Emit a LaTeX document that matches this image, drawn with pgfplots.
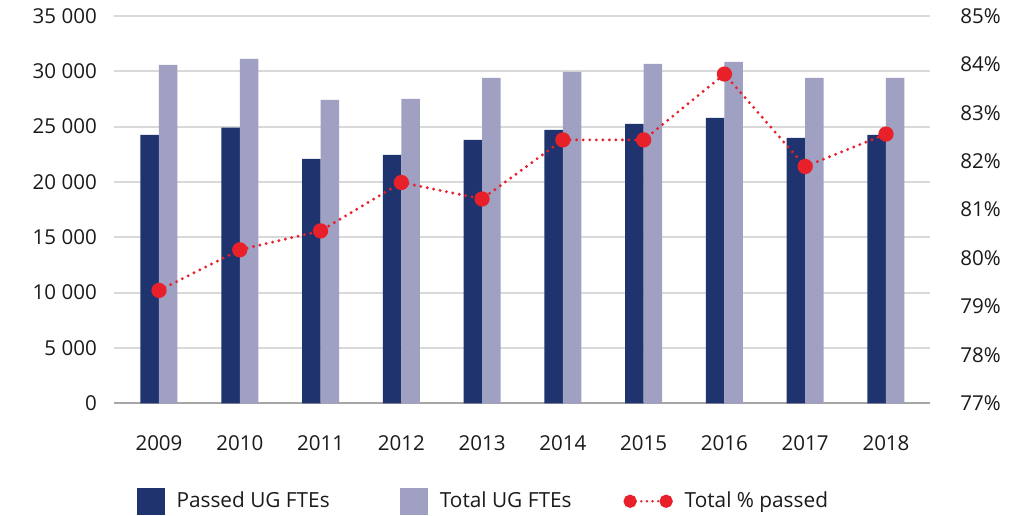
\documentclass[border=0pt]{standalone}
\usepackage{fontspec}
\setmainfont{Open Sans}
\usepackage{pgfplots}
\pgfplotsset{compat=1.18}

\definecolor{navy}{HTML}{1F336E}
\definecolor{lav}{HTML}{A0A0C2}
\definecolor{redc}{HTML}{E8202A}
\definecolor{gridc}{HTML}{D9D9D9}
\definecolor{axisc}{HTML}{A6A6A6}
\definecolor{txt}{HTML}{1A1A1A}

\begin{document}
\fontsize{15.4}{18}\selectfont
\begin{tikzpicture}
\pgfplotsset{
  base/.style={
    width=612pt, height=290.5pt, scale only axis,
    xmin=-0.557, xmax=9.545,
    major tick length=0pt,
    tick label style={font=\fontsize{15.4}{18}\selectfont, text=txt},
    /pgf/number format/assume math mode=true,
  }
}
\begin{axis}[base,
    ybar, bar width=0.229,
    ymin=0, ymax=35000,
    ytick={0,5000,...,35000},
    scaled y ticks=false,
    yticklabel style={xshift=-7.6pt, /pgf/number format/.cd, fixed, precision=0, 1000 sep={\ }},
    xtick={0,...,9},
    xticklabels={2009,2010,2011,2012,2013,2014,2015,2016,2017,2018},
    xticklabel style={yshift=-18.6pt},
    ymajorgrids,
    grid style={line width=1.5pt, gridc},
    axis x line*=bottom, axis y line*=left,
    x axis line style={-, line width=1.5pt, axisc},
    y axis line style={draw=none},
]
\coordinate (O) at (rel axis cs:0,0);
\addplot[fill=navy, draw=none, bar shift=-0.1145] coordinates {
(0,24250) (1,24900) (2,22080) (3,22440) (4,23800)
(5,24700) (6,25240) (7,25790) (8,23980) (9,24250)
};
\addplot[fill=lav, draw=none, bar shift=0.1145] coordinates {
(0,30570) (1,31120) (2,27410) (3,27500) (4,29400)
(5,29940) (6,30660) (7,30850) (8,29400) (9,29400)
};
\end{axis}

\begin{axis}[base,
    ymin=77, ymax=85,
    ytick={77,78,...,85},
    yticklabel={\pgfmathprintnumber[fixed,precision=0]{\tick}\%},
    yticklabel style={xshift=17.4pt},
    axis y line*=right,
    y axis line style={draw=none},
    hide x axis,
    legend columns=-1,
    legend style={
      at={(rel axis cs:0.0282,-0.2530)}, anchor=west,
      draw=none, fill=none, inner sep=0pt, outer sep=0pt,
      font=\fontsize{15.6}{18}\selectfont, text=txt,
      /tikz/every odd column/.append style={column sep=7pt},
      /tikz/column 2/.style={column sep=51pt},
      /tikz/column 4/.style={column sep=37pt},
    },
]
\addlegendimage{legend image code/.code={\fill[navy] (0pt,-10.1pt) rectangle (20.25pt,10.1pt);}}
\addlegendentry{Passed UG FTEs}
\addlegendimage{legend image code/.code={\fill[lav] (0pt,-10.1pt) rectangle (20.25pt,10.1pt);}}
\addlegendentry{Total UG FTEs}
\addplot[redc, line width=2.4pt, line cap=round, dash pattern=on 0pt off 4.9pt,
    mark=*, mark size=4.5pt, mark options={solid, draw=none, fill=redc},
    legend image code/.code={
      \draw[redc, line width=2pt, line cap=round, dash pattern=on 0pt off 4.2pt] (3.75pt,0) -- (30.75pt,0);
      \fill[redc, solid] (3.75pt,0) circle (3.75pt);
      \fill[redc, solid] (30.75pt,0) circle (3.75pt);
    }] coordinates {
(0,79.33) (1,80.17) (2,80.56) (3,81.56) (4,81.22)
(5,82.44) (6,82.44) (7,83.80) (8,81.89) (9,82.56)
};
\addlegendentry{Total \% passed}
\end{axis}
\pgfresetboundingbox
\path[use as bounding box] (O) ++(-85.5pt,-83.8pt) rectangle ++(772.5pt,386.25pt);
\end{tikzpicture}
\end{document}
